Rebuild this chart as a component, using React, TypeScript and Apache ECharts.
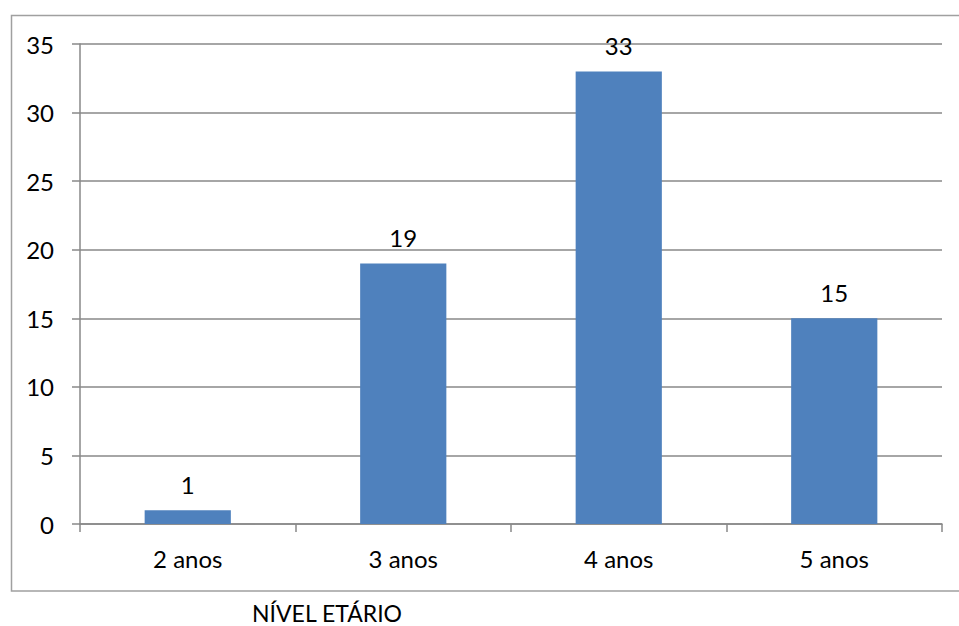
import React, { useEffect, useRef } from "react";
import * as echarts from "echarts";

const categories = ["2 anos", "3 anos", "4 anos", "5 anos"];
const values = [1, 19, 33, 15];
const axisTitle = "NÍVEL ETÁRIO";
const yMax = 35;
const yInterval = 5;

export default function App() {
  const ref = useRef<HTMLDivElement>(null);
  useEffect(() => {
    document.body.style.margin = "0";
    if (!ref.current) return;
    const chart = echarts.init(ref.current, null, { renderer: "svg" });
    const font = "Lato, 'Open Sans', sans-serif";
    const fs = 24;
    chart.setOption({
      animation: false,
      backgroundColor: "#ffffff",
      grid: { left: 80, right: 17, top: 44, bottom: 102, containLabel: false },
      xAxis: {
        type: "category",
        data: categories,
        axisLine: { show: true, lineStyle: { color: "#888888", width: 1.5 } },
        axisTick: { show: true, length: 8, lineStyle: { color: "#888888", width: 1.5 } },
        axisLabel: { color: "#000000", fontSize: fs, fontFamily: font, margin: 22 },
        splitLine: { show: false },
      },
      yAxis: {
        type: "value",
        min: 0,
        max: yMax,
        interval: yInterval,
        axisLine: { show: true, lineStyle: { color: "#888888", width: 1.5 } },
        axisTick: { show: true, length: 8, lineStyle: { color: "#888888", width: 1.5 } },
        axisLabel: { color: "#000000", fontSize: fs, fontFamily: font, margin: 26 },
        splitLine: { show: true, lineStyle: { color: "#888888", width: 1.5 } },
      },
      series: [
        {
          type: "bar",
          data: values,
          barWidth: "40%",
          itemStyle: { color: "#4F81BD" },
          label: {
            show: true,
            position: "top",
            distance: 14,
            color: "#000000",
            fontSize: fs,
            fontFamily: font,
          },
        },
      ],
      graphic: [
        {
          type: "rect",
          shape: { x: 11.5, y: 15.5, width: 960, height: 575.5 },
          style: { fill: "none", stroke: "#a0a0a0", lineWidth: 1.5 },
          silent: true,
          z: -1,
        },
        {
          type: "text",
          x: 327,
          y: 613,
          style: {
            text: axisTitle,
            fill: "#000000",
            fontSize: 23,
            lineHeight: 22,
            fontFamily: font,
            textAlign: "center",
            textVerticalAlign: "middle",
          },
        },
      ],
    });
    return () => chart.dispose();
  }, []);
  return <div ref={ref} style={{ width: 959, height: 626 }} />;
}
